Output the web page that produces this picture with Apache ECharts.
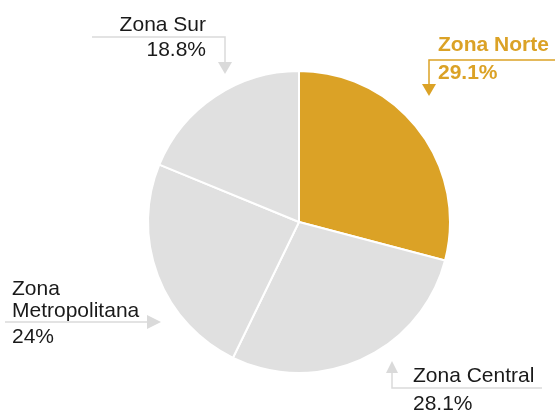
<!DOCTYPE html>
<html>
<head>
<meta charset="utf-8">
<script src="https://cdn.jsdelivr.net/npm/echarts@6/dist/echarts.min.js"></script>
<style>
  html, body { margin: 0; padding: 0; background: #fff; }
  #main { width: 555px; height: 411px; }
</style>
</head>
<body>
<div id="main"></div>
<script>
var zonas = ['Zona Norte', 'Zona Central', 'Zona Metropolitana', 'Zona Sur'];
var porcentajes = [29.1, 28.1, 24, 18.8];
var colores = ['#DBA226', '#E0E0E0', '#E0E0E0', '#E0E0E0'];

var gold = '#DBA226';
var gris = '#DADADA';

// posiciones de las etiquetas (x, y, alineación, líneas)
var etiquetas = [
  { x: 438, y: 34, align: 'left', vlh: 34, color: gold, bold: true,
    line: [[555, 60], [429, 60], [429, 84]] },
  { x: 413, y: 365, align: 'left', vlh: 34, color: '#1a1a1a', bold: false,
    line: [[542, 388], [392, 388], [392, 373]] },
  { x: 12, y: 278, align: 'left', vlh: 30, color: '#1a1a1a', bold: false,
    line: [[5, 322], [100, 322], [148, 322]] },
  { x: 206, y: 14, align: 'right', vlh: 28, color: '#1a1a1a', bold: false,
    line: [[92, 37], [225, 37], [225, 62]] }
];

var fuente = '"Liberation Sans", Arial, sans-serif';

var datos = zonas.map(function (z, i) {
  var e = etiquetas[i];
  return {
    name: z,
    value: porcentajes[i],
    itemStyle: { color: colores[i] },
    label: {
      rich: {
        n: { fontSize: 21, lineHeight: 22, color: e.color, fontWeight: e.bold ? 'bold' : 'normal', fontFamily: fuente, align: e.align },
        v: { fontSize: 21, lineHeight: e.vlh, color: e.color, fontWeight: e.bold ? 'bold' : 'normal', fontFamily: fuente, align: e.align }
      }
    },
    labelLine: { lineStyle: { color: e.color === gold ? gold : gris, width: 1.5 } }
  };
});

function flecha(tip, dir, color) {
  var p;
  if (dir === 'down') p = [[tip[0] - 7, tip[1] - 12], [tip[0] + 7, tip[1] - 12], tip];
  if (dir === 'up') p = [[tip[0] - 6, tip[1] + 12], [tip[0] + 6, tip[1] + 12], tip];
  if (dir === 'right') p = [[tip[0] - 14, tip[1] - 7], [tip[0] - 14, tip[1] + 7], tip];
  return { type: 'polygon', shape: { points: p }, style: { fill: color }, silent: true };
}

var dom = echarts.init(document.getElementById('main'));

var option = {
  animation: false,
  graphic: [
    flecha([429, 96], 'down', gold),
    flecha([392, 361], 'up', gris),
    flecha([161, 322], 'right', gris),
    flecha([225, 74], 'down', gris)
  ],
  series: [{
    type: 'pie',
    center: [299, 222],
    radius: 151,
    startAngle: 90,
    clockwise: true,
    avoidLabelOverlap: false,
    emphasis: { disabled: true },
    itemStyle: { borderColor: '#fff', borderWidth: 2 },
    label: {
      show: true,
      position: 'outside',
      formatter: function (p) {
        var n = p.name === 'Zona Metropolitana' ? '{n|Zona}\n{n|Metropolitana}' : '{n|' + p.name + '}';
        return n + '\n{v|' + p.value + '%}';
      }
    },
    labelLine: { show: true },
    labelLayout: function (params) {
      var e = etiquetas[params.dataIndex];
      return {
        x: e.x,
        y: e.y,
        align: e.align,
        verticalAlign: 'top',
        labelLinePoints: e.line
      };
    },
    data: datos
  }]
};

dom.setOption(option);
</script>
</body>
</html>
